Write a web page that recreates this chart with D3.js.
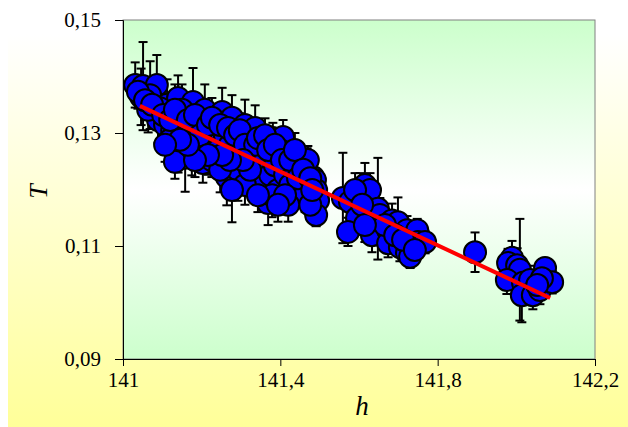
<!DOCTYPE html>
<html><head><meta charset="utf-8">
<script src="https://cdn.jsdelivr.net/npm/d3@7"></script>
<style>body{margin:0;background:#fff}svg{display:block}
svg text{font-family:"Liberation Serif","DejaVu Serif",serif}</style>
</head><body>
<svg id="c" width="628" height="427"></svg>
<script>
// Data: h (x), T (y), error (±)
const hValues = [
141.031,141.051,141.046,141.086,141.069,141.112,141.140,141.178,141.208,141.252,141.277,141.310,141.336,141.381,141.407,141.417,141.450,141.468,141.483,141.488,141.491,141.496,141.491,
141.089,141.107,141.125,141.120,141.145,141.158,141.170,141.140,141.175,141.191,141.208,141.221,141.203,141.226,141.242,141.234,141.259,141.272,141.264,141.285,141.297,141.292,141.318,141.323,141.328,141.336,141.348,141.361,141.353,141.369,141.374,141.386,141.399,141.394,141.412,141.425,141.437,141.430,141.450,141.463,141.470,141.476,141.420,141.379,141.310,141.277,141.247,141.196,141.158,141.132,141.094,141.064,141.150,
141.038,141.056,141.074,141.102,141.120,141.132,141.165,141.183,141.196,141.216,141.226,141.247,141.267,141.285,141.297,141.310,141.336,141.343,141.361,141.369,141.386,141.404,141.425,141.437,141.445,141.458,141.476,141.481,141.412,141.394,141.343,141.323,141.305,141.272,141.252,141.216,141.183,141.165,141.145,141.107,
141.559,141.577,141.603,141.615,141.628,141.595,141.572,141.633,141.633,141.648,141.653,141.674,141.674,141.684,141.699,141.704,141.722,141.722,141.735,141.748,141.750,141.730,141.768,
141.590,141.608,141.666,141.692,141.712,141.742,141.615,
141.895,
141.989,141.979,142.002,142.009,141.976,142.017,142.035,142.014,142.042,142.060,142.073,142.091,142.065,142.053
];
const tValues = [
0.1385,0.1383,0.1364,0.1385,0.1367,0.1350,0.1362,0.1355,0.1341,0.1337,0.1327,0.1314,0.1309,0.1291,0.1293,0.1265,0.1247,0.1231,0.1222,0.1217,0.1199,0.1181,0.1155,
0.1323,0.1314,0.1305,0.1288,0.1327,0.1305,0.1291,0.1270,0.1275,0.1314,0.1296,0.1279,0.1247,0.1252,0.1270,0.1309,0.1296,0.1279,0.1222,0.1252,0.1270,0.1235,0.1288,0.1261,0.1222,0.1243,0.1270,0.1252,0.1208,0.1176,0.1226,0.1243,0.1270,0.1199,0.1226,0.1208,0.1235,0.1190,0.1208,0.1190,0.1252,0.1173,0.1173,0.1190,0.1208,0.1199,0.1235,0.1270,0.1256,0.1249,0.1344,0.1341,0.1341,
0.1373,0.1358,0.1350,0.1332,0.1323,0.1341,0.1323,0.1332,0.1296,0.1314,0.1327,0.1314,0.1309,0.1296,0.1305,0.1279,0.1279,0.1291,0.1296,0.1270,0.1279,0.1252,0.1252,0.1270,0.1220,0.1235,0.1220,0.1199,0.1190,0.1173,0.1190,0.1235,0.1252,0.1252,0.1261,0.1261,0.1252,0.1279,0.1288,0.1279,
0.1185,0.1178,0.1194,0.1208,0.1199,0.1150,0.1125,0.1119,0.1164,0.1166,0.1155,0.1128,0.1105,0.1145,0.1142,0.1098,0.1088,0.1128,0.1114,0.1128,0.1107,0.1081,0.1107,
0.1199,0.1173,0.1137,0.1119,0.1111,0.1093,0.1137,
0.1089,
0.1079,0.1070,0.1066,0.1058,0.1040,0.1035,0.1040,0.1013,0.1013,0.1022,0.1061,0.1036,0.1043,0.1031
];
const errValues = [
0.0040,0.0078,0.0050,0.0053,0.0060,0.0045,0.0040,0.0060,0.0045,0.0043,0.0040,0.0045,0.0040,0.0027,0.0030,0.0025,0.0030,0.0042,0.0030,0.0020,0.0025,0.0020,0.0020,
0.0040,0.0030,0.0040,0.0030,0.0035,0.0040,0.0030,0.0040,0.0050,0.0040,0.0030,0.0035,0.0035,0.0030,0.0030,0.0040,0.0040,0.0030,0.0050,0.0030,0.0035,0.0055,0.0030,0.0030,0.0040,0.0030,0.0025,0.0030,0.0035,0.0039,0.0030,0.0025,0.0025,0.0030,0.0025,0.0030,0.0030,0.0025,0.0025,0.0030,0.0025,0.0025,0.0030,0.0039,0.0035,0.0057,0.0040,0.0035,0.0060,0.0030,0.0030,0.0040,0.0045,
0.0030,0.0035,0.0030,0.0030,0.0035,0.0045,0.0030,0.0035,0.0030,0.0040,0.0035,0.0030,0.0035,0.0030,0.0030,0.0030,0.0025,0.0030,0.0030,0.0025,0.0025,0.0030,0.0025,0.0030,0.0025,0.0030,0.0025,0.0025,0.0030,0.0030,0.0030,0.0030,0.0035,0.0030,0.0030,0.0035,0.0030,0.0030,0.0035,0.0030,
0.0080,0.0030,0.0035,0.0039,0.0030,0.0030,0.0025,0.0030,0.0030,0.0090,0.0030,0.0030,0.0025,0.0030,0.0044,0.0025,0.0020,0.0025,0.0025,0.0020,0.0020,0.0020,0.0020,
0.0030,0.0030,0.0025,0.0025,0.0020,0.0020,0.0030,
0.0035,
0.0030,0.0025,0.0030,0.0090,0.0025,0.0025,0.0025,0.0048,0.0025,0.0025,0.0018,0.0020,0.0025,0.0025
];
// Linear fit line endpoints
const fitH = [141.043, 142.086];
const fitT = [0.1348, 0.1008];
const xTicks = [141, 141.4, 141.8, 142.2];
const yTicks = [0.09, 0.11, 0.13, 0.15];
const xLabel = "h", yLabel = "T";

const svg = d3.select("#c");
const W = 628, H = 427;
const FONT = "'Liberation Serif','DejaVu Serif',serif";
const m = {l:123, r:595, t:20, b:359};
const x = d3.scaleLinear().domain([141, 142.2]).range([m.l, m.r]);
const y = d3.scaleLinear().domain([0.09, 0.15]).range([m.b, m.t]);
const fmt = d => String(+d.toFixed(2)).replace(".", ",");

const defs = svg.append("defs");
const bg = defs.append("linearGradient").attr("id","bg").attr("x1",0).attr("y1",0).attr("x2",0).attr("y2",1);
bg.append("stop").attr("offset","0%").attr("stop-color","#ffffff");
bg.append("stop").attr("offset","8%").attr("stop-color","#ffffff");
bg.append("stop").attr("offset","100%").attr("stop-color","#ffff99");
const pg = defs.append("linearGradient").attr("id","pg").attr("x1",0).attr("y1",0).attr("x2",0).attr("y2",1);
pg.append("stop").attr("offset","0%").attr("stop-color","#ccffcc");
pg.append("stop").attr("offset","50%").attr("stop-color","#ffffff");
pg.append("stop").attr("offset","100%").attr("stop-color","#ccffcc");
defs.append("clipPath").attr("id","clip").append("rect")
  .attr("x",m.l).attr("y",m.t).attr("width",m.r-m.l).attr("height",m.b-m.t);

svg.append("rect").attr("x",8).attr("y",0).attr("width",W-8).attr("height",H).attr("fill","url(#bg)");
svg.append("rect").attr("x",m.l).attr("y",m.t).attr("width",m.r-m.l).attr("height",m.b-m.t)
  .attr("fill","url(#pg)").attr("stroke","#808080").attr("stroke-width",1);

const data = hValues.map((h,i)=>({h, t:tValues[i], e:errValues[i]}));
const g = svg.append("g").attr("clip-path","url(#clip)");
const eb = g.append("g").attr("stroke","#000").attr("stroke-width",2).attr("fill","none");
data.forEach(d=>{
  const cx = x(d.h), y1 = y(d.t + d.e), y2 = y(d.t - d.e);
  eb.append("line").attr("x1",cx).attr("x2",cx).attr("y1",y1).attr("y2",y2);
  eb.append("line").attr("x1",cx-4.5).attr("x2",cx+4.5).attr("y1",y1).attr("y2",y1);
  eb.append("line").attr("x1",cx-4.5).attr("x2",cx+4.5).attr("y1",y2).attr("y2",y2);
});
g.append("g").selectAll("circle").data(data).join("circle")
  .attr("cx",d=>x(d.h)).attr("cy",d=>y(d.t)).attr("r",11)
  .attr("fill","#0000ff").attr("stroke","#000").attr("stroke-width",2);
g.append("line").attr("x1",x(fitH[0])).attr("y1",y(fitT[0])).attr("x2",x(fitH[1])).attr("y2",y(fitT[1]))
  .attr("stroke","#ff0000").attr("stroke-width",4);

const ax = svg.append("g").attr("transform",`translate(0,${m.b})`)
  .call(d3.axisBottom(x).tickValues(xTicks).tickFormat(fmt).tickSize(7).tickPadding(6));
const ay = svg.append("g").attr("transform",`translate(${m.l},0)`)
  .call(d3.axisLeft(y).tickValues(yTicks).tickFormat(fmt).tickSize(8).tickPadding(14));
[ax, ay].forEach(a=>{
  a.attr("font-family", FONT).attr("font-size", 21);
  a.select(".domain").attr("stroke","#000");
  a.selectAll(".tick line").attr("stroke","#000");
  a.selectAll("text").attr("fill","#000").attr("font-family", FONT).attr("font-size", 21);
});

svg.append("text").attr("x",(m.l+m.r)/2+3).attr("y",415).attr("text-anchor","middle")
  .attr("font-family",FONT).attr("font-style","italic").attr("font-size",27)
  .text(xLabel);
svg.append("text").attr("transform",`translate(47,${(m.t+m.b)/2+2}) rotate(-90)`).attr("text-anchor","middle")
  .attr("font-family",FONT).attr("font-style","italic").attr("font-size",26)
  .text(yLabel);
</script>
</body></html>
